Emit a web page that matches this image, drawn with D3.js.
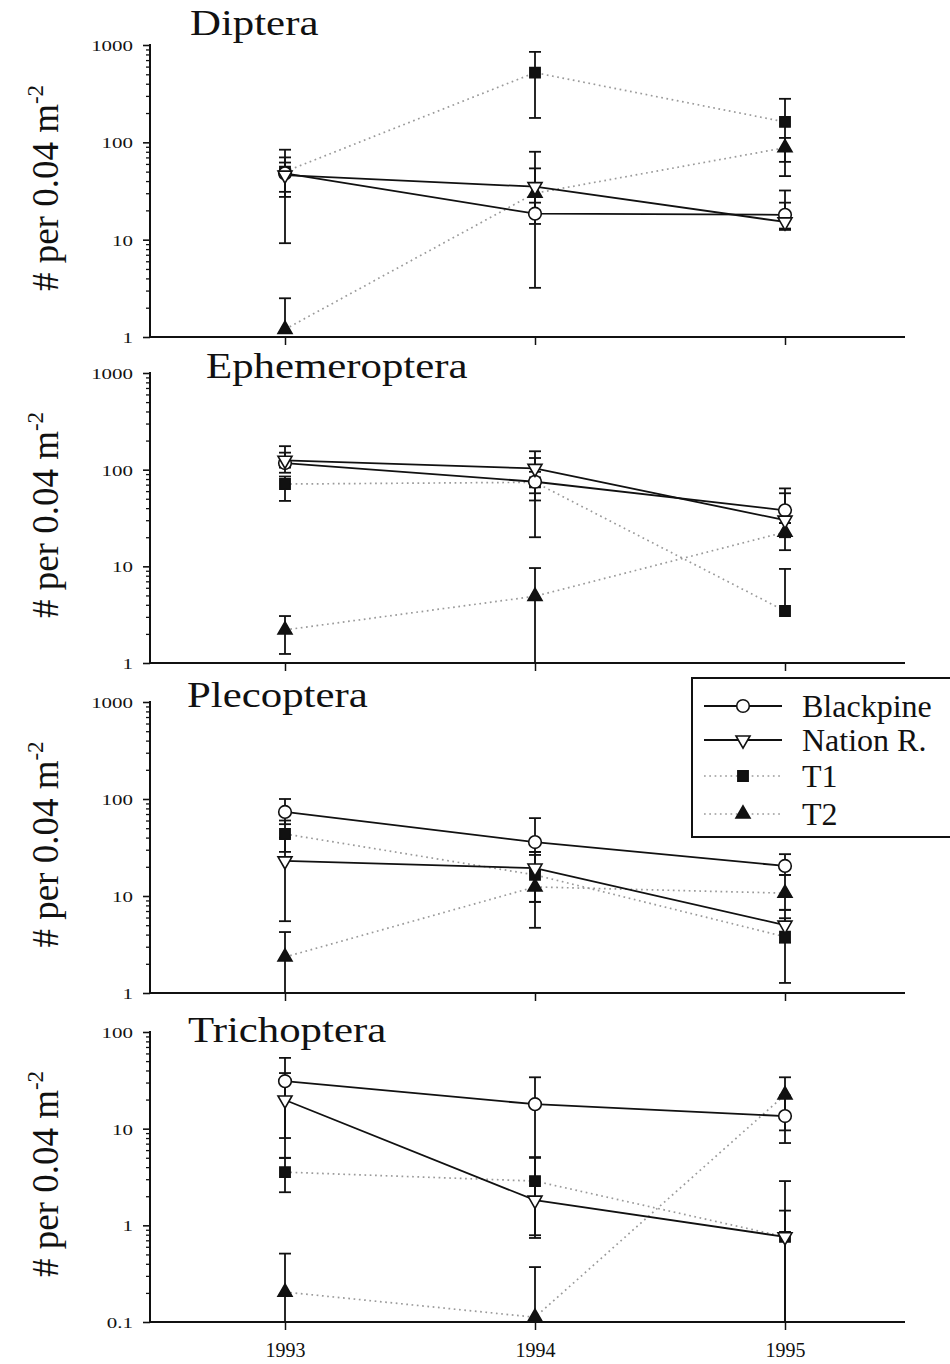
<!DOCTYPE html>
<html>
<head>
<meta charset="utf-8">
<script src="https://cdn.jsdelivr.net/npm/d3@7"></script>
<style>
  html, body { margin: 0; padding: 0; background: #fff; }
  svg { display: block; }
  text { font-family: "Liberation Serif", "Times New Roman", serif; fill: #111; }
</style>
</head>
<body>
<svg id="chart" width="950" height="1364"></svg>
<script>
// Sampling years and site series
const years = [1993, 1994, 1995];
const seriesNames = ["Blackpine", "Nation R.", "T1", "T2"];
const taxa = ["Diptera", "Ephemeroptera", "Plecoptera", "Trichoptera"];

// Mean densities (# per 0.04 m^-2); rows follow seriesNames, columns follow years
const dipteraMean = [[48, 18.5, 18], [46, 35, 15.2], [50, 520, 162], [1.2, 30, 88]];
const dipteraLow  = [[27.5, 14.5, 13], [9.2, 3.2, 12.6], [31, 178, 63], [1.2, 20, 45]];
const dipteraHigh = [[84, 24, 32], [62, 54, 24], [70, 850, 280], [2.5, 80, 111]];

const ephemeropteraMean = [[117, 75, 38], [125, 103, 30], [71, 74, 3.45], [2.2, 4.9, 22.6]];
const ephemeropteraLow  = [[93, 20, 28], [105, 57, 20], [47.5, 48, 3.45], [1.24, 0.5, 14.7]];
const ephemeropteraHigh = [[150, 132, 57], [175, 155, 64], [85, 95, 9.4], [3.06, 9.6, 28]];

const plecopteraMean = [[73.5, 36, 20.4], [23, 19.4, 5.0], [43.6, 16.5, 3.8], [2.35, 12.4, 10.7]];
const plecopteraLow  = [[55, 28.5, 16.5], [5.5, 8.7, 3.3], [28.5, 4.7, 1.27], [0.5, 8.7, 7.2]];
const plecopteraHigh = [[100, 63.5, 27], [40, 26.5, 7.2], [60, 28.5, 5.9], [4.25, 18, 16.5]];

const trichopteraMean = [[31, 17.9, 13.5], [19.8, 1.82, 0.76], [3.55, 2.87, 0.76], [0.204, 0.112, 22.4]];
const trichopteraLow  = [[8.0, 5.05, 7.1], [4.97, 0.74, 0.05], [2.2, 0.79, 0.05], [0.05, 0.05, 9.6]];
const trichopteraHigh = [[54, 34, 22], [37.6, 5.05, 2.87], [5, 5, 1.42], [0.51, 0.37, 34]];

// Y axis tick labels
const ticksUpTo1000 = [1, 10, 100, 1000];
const ticksUpTo100 = [0.1, 1, 10, 100];

const panelMeans = [dipteraMean, ephemeropteraMean, plecopteraMean, trichopteraMean];
const panelLows = [dipteraLow, ephemeropteraLow, plecopteraLow, trichopteraLow];
const panelHighs = [dipteraHigh, ephemeropteraHigh, plecopteraHigh, trichopteraHigh];
const panelTicks = [ticksUpTo1000, ticksUpTo1000, ticksUpTo1000, ticksUpTo100];

// Panel geometry
const panels = [
  { top: 45, bottom: 337, titleX: 190, titleY: 35 },
  { top: 373, bottom: 663, titleX: 206, titleY: 378 },
  { top: 702, bottom: 993, titleX: 187, titleY: 707 },
  { top: 1032, bottom: 1322, titleX: 188, titleY: 1042 }
];
const axisLeft = 150, axisRight = 905;

const svg = d3.select("#chart");
const x = d3.scaleLinear().domain([1992.46, 1995.48]).range([axisLeft, axisRight]);

// Marker styles per series
const styles = [
  { dotted: false, symbol: d3.symbolCircle, size: 125, fill: "#fff", rotate: 0 },
  { dotted: false, symbol: d3.symbolTriangle, size: 85, fill: "#fff", rotate: 180 },
  { dotted: true, symbol: d3.symbolSquare, size: 105, fill: "#111", rotate: 0 },
  { dotted: true, symbol: d3.symbolTriangle, size: 85, fill: "#111", rotate: 0 }
];

function lineStroke(sel, dotted) {
  if (dotted) {
    sel.attr("stroke", "#9a9a9a").attr("stroke-width", 1.7).attr("stroke-dasharray", "1.7,3.6");
  } else {
    sel.attr("stroke", "#111").attr("stroke-width", 1.8);
  }
}

function minorTicks(domain) {
  const out = [];
  for (let d = domain[0]; d < domain[1] * 0.999; d *= 10) {
    for (let k = 2; k <= 9; k++) out.push(d * k);
  }
  return out;
}

const fmt = v => (v < 1 ? String(v) : d3.format("d")(v));

panels.forEach((p, i) => {
  const ticks = panelTicks[i];
  const domain = [ticks[0], ticks[ticks.length - 1]];
  const y = d3.scaleLog().domain(domain).range([p.bottom, p.top]).clamp(true);
  const g = svg.append("g");

  // Y axis: major and minor ticks on the left
  const yMajor = g.append("g").attr("transform", `translate(${axisLeft},0)`)
    .call(d3.axisLeft(y).tickValues(ticks).tickSize(7).tickFormat(fmt));
  yMajor.attr("font-family", null).attr("font-size", null);
  yMajor.select(".domain").remove();
  yMajor.selectAll(".tick line").attr("stroke", "#111").attr("stroke-width", 1.6);
  yMajor.selectAll(".tick text")
    .attr("x", null).attr("dy", "0.36em")
    .attr("transform", "translate(-17,0) scale(1.35,1)")
    .style("font-size", "15.5px");

  const yMinor = g.append("g").attr("transform", `translate(${axisLeft},0)`)
    .call(d3.axisLeft(y).tickValues(minorTicks(domain)).tickSize(4).tickFormat(""));
  yMinor.select(".domain").remove();
  yMinor.selectAll(".tick line").attr("stroke", "#111").attr("stroke-width", 1.3);

  g.append("line").attr("x1", axisLeft).attr("x2", axisLeft)
    .attr("y1", p.top - 1).attr("y2", p.bottom + 1)
    .attr("stroke", "#111").attr("stroke-width", 2);

  // X axis
  const xAxis = g.append("g").attr("transform", `translate(0,${p.bottom})`)
    .call(d3.axisBottom(x).tickValues(years).tickSize(8).tickPadding(13)
      .tickFormat(i === panels.length - 1 ? d3.format("d") : ""));
  xAxis.attr("font-family", null).attr("font-size", null);
  xAxis.select(".domain").remove();
  xAxis.selectAll(".tick line").attr("stroke", "#111").attr("stroke-width", 1.5);
  xAxis.selectAll(".tick text").style("font-size", "20px");
  g.append("line").attr("x1", axisLeft).attr("x2", axisRight)
    .attr("y1", p.bottom).attr("y2", p.bottom)
    .attr("stroke", "#111").attr("stroke-width", 2);

  // Panel title
  g.append("text")
    .attr("transform", `translate(${p.titleX},${p.titleY}) scale(1.19,1)`)
    .style("font-size", "36px")
    .text(taxa[i]);

  // Y axis label
  const yl = g.append("text")
    .attr("transform", `translate(58,${(p.top + p.bottom) / 2 - 3}) rotate(-90)`)
    .attr("text-anchor", "middle")
    .style("font-size", "37px");
  yl.append("tspan").text("# per 0.04 m");
  yl.append("tspan").attr("dy", "-15").style("font-size", "23px").text("-2");

  const means = panelMeans[i], lows = panelLows[i], highs = panelHighs[i];
  const line = d3.line().x((d, j) => x(years[j])).y(d => y(d));

  // Connecting lines: dotted sites underneath solid ones
  [2, 3, 0, 1].forEach(s => {
    g.append("path").datum(means[s]).attr("d", line).attr("fill", "none")
      .call(lineStroke, styles[s].dotted);
  });

  // Error bars
  const [dMin, dMax] = domain;
  means.forEach((row, s) => {
    row.forEach((m, j) => {
      const cx = x(years[j]);
      const lo = lows[s][j], hi = highs[s][j];
      g.append("line").attr("x1", cx).attr("x2", cx)
        .attr("y1", y(lo)).attr("y2", y(hi))
        .attr("stroke", "#111").attr("stroke-width", 1.8);
      [[lo, lo < m], [hi, hi > m]].forEach(([v, show]) => {
        if (show && v >= dMin && v <= dMax) {
          g.append("line").attr("x1", cx - 6).attr("x2", cx + 6)
            .attr("y1", y(v)).attr("y2", y(v))
            .attr("stroke", "#111").attr("stroke-width", 1.8);
        }
      });
    });
  });

  // Markers
  [2, 3, 0, 1].forEach(s => {
    const st = styles[s];
    g.append("g").selectAll("path").data(means[s]).join("path")
      .attr("d", d3.symbol().type(st.symbol).size(st.size))
      .attr("transform", (d, j) => `translate(${x(years[j])},${y(d)}) rotate(${st.rotate})`)
      .attr("fill", st.fill).attr("stroke", "#111").attr("stroke-width", 1.6);
  });
});

// Legend
const legend = svg.append("g").attr("transform", "translate(692,678)");
legend.append("rect").attr("x", 0).attr("y", 0).attr("width", 270).attr("height", 159)
  .attr("fill", "#fff").attr("stroke", "#111").attr("stroke-width", 2);
const rowY = [28, 62, 98, 136];
seriesNames.forEach((name, s) => {
  const st = styles[s];
  const r = legend.append("g").attr("transform", `translate(0,${rowY[s]})`);
  r.append("line").attr("x1", 12).attr("x2", 90).attr("y1", 0).attr("y2", 0)
    .call(lineStroke, st.dotted);
  r.append("path").attr("d", d3.symbol().type(st.symbol).size(st.size)())
    .attr("transform", `translate(51,0) rotate(${st.rotate})`)
    .attr("fill", st.fill).attr("stroke", "#111").attr("stroke-width", 1.6);
  r.append("text").attr("x", 110).attr("y", 11).style("font-size", "32px").text(name);
});
</script>
</body>
</html>
